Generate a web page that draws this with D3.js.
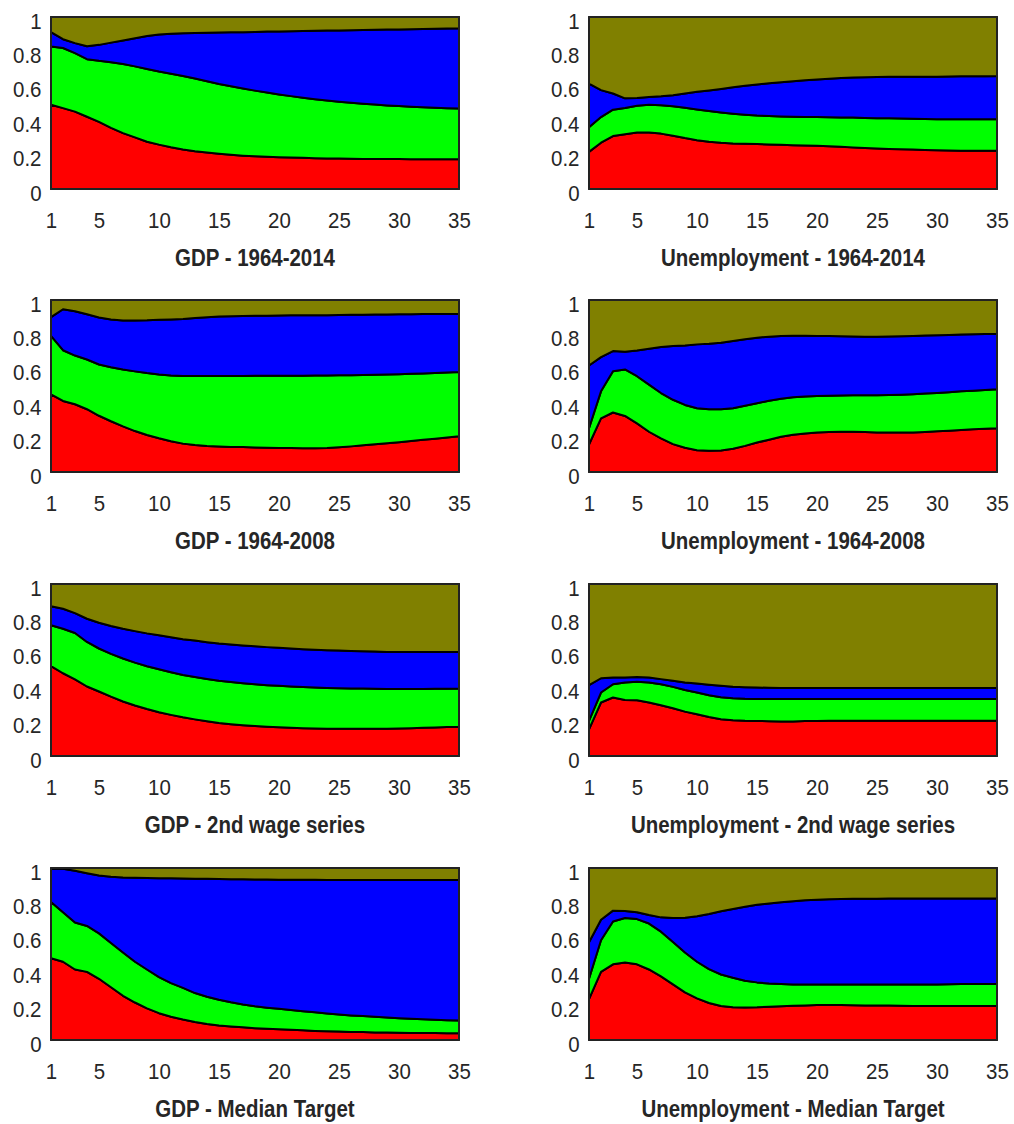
<!DOCTYPE html>
<html>
<head>
<meta charset="utf-8">
<script src="https://cdn.jsdelivr.net/npm/d3@7"></script>
<style>
  html, body { margin: 0; padding: 0; background: #ffffff; }
  svg { display: block; }
  text { font-family: "Liberation Sans", Arial, sans-serif; fill: #262626; }
</style>
</head>
<body>
<svg id="chart" width="1014" height="1124"></svg>
<script>
// Forecast horizons (quarters) shared by every panel
const horizons = [1,2,3,4,5,6,7,8,9,10,11,12,13,14,15,16,17,18,19,20,21,22,23,24,25,26,27,28,29,30,31,32,33,34,35];
const xTicks = [1, 5, 10, 15, 20, 25, 30, 35];
const yTicks = [0, 0.2, 0.4, 0.6, 0.8, 1];

// Cumulative shares: upper edge of the red, green and blue bands (olive fills the rest up to 1)
const gdp6414Red   = [0.49,0.47,0.45,0.42,0.39,0.355,0.325,0.30,0.275,0.258,0.243,0.23,0.22,0.212,0.205,0.199,0.194,0.19,0.187,0.185,0.183,0.181,0.179,0.178,0.177,0.176,0.175,0.175,0.174,0.174,0.173,0.173,0.173,0.173,0.173];
const gdp6414Green = [0.828,0.82,0.79,0.755,0.745,0.737,0.727,0.713,0.698,0.683,0.67,0.657,0.642,0.626,0.61,0.597,0.584,0.572,0.561,0.55,0.54,0.531,0.522,0.514,0.507,0.501,0.496,0.491,0.486,0.482,0.478,0.475,0.472,0.47,0.468];
const gdp6414Blue  = [0.912,0.871,0.848,0.83,0.838,0.851,0.864,0.877,0.889,0.898,0.903,0.906,0.907,0.909,0.91,0.911,0.912,0.913,0.915,0.916,0.917,0.918,0.92,0.921,0.922,0.923,0.924,0.926,0.927,0.928,0.929,0.93,0.932,0.933,0.934];

const une6414Red   = [0.216,0.269,0.308,0.318,0.328,0.329,0.322,0.31,0.296,0.284,0.275,0.269,0.265,0.263,0.261,0.259,0.257,0.255,0.253,0.251,0.248,0.245,0.242,0.238,0.235,0.233,0.231,0.229,0.227,0.225,0.224,0.223,0.223,0.222,0.222];
const une6414Green = [0.359,0.418,0.461,0.471,0.484,0.49,0.487,0.481,0.472,0.462,0.453,0.445,0.438,0.432,0.427,0.424,0.422,0.42,0.419,0.418,0.417,0.416,0.415,0.413,0.412,0.411,0.41,0.409,0.407,0.406,0.406,0.406,0.406,0.406,0.406];
const une6414Blue  = [0.612,0.575,0.555,0.527,0.529,0.535,0.539,0.545,0.555,0.565,0.573,0.582,0.591,0.6,0.608,0.615,0.621,0.627,0.632,0.637,0.641,0.645,0.648,0.65,0.651,0.652,0.652,0.653,0.653,0.653,0.654,0.655,0.656,0.656,0.657];

const gdp6408Red   = [0.452,0.413,0.394,0.365,0.327,0.295,0.265,0.238,0.215,0.196,0.179,0.165,0.157,0.151,0.148,0.146,0.145,0.143,0.141,0.14,0.139,0.138,0.138,0.14,0.144,0.149,0.155,0.161,0.167,0.173,0.18,0.187,0.194,0.201,0.208];
const gdp6408Green = [0.792,0.708,0.677,0.654,0.625,0.609,0.596,0.585,0.575,0.567,0.561,0.558,0.558,0.558,0.558,0.558,0.558,0.559,0.559,0.56,0.56,0.56,0.561,0.561,0.562,0.563,0.564,0.565,0.567,0.569,0.571,0.573,0.576,0.578,0.581];
const gdp6408Blue  = [0.9,0.946,0.935,0.917,0.898,0.887,0.881,0.881,0.882,0.885,0.887,0.89,0.895,0.9,0.904,0.906,0.907,0.908,0.909,0.91,0.911,0.911,0.912,0.912,0.913,0.914,0.914,0.915,0.916,0.917,0.917,0.918,0.918,0.919,0.919];

const une6408Red   = [0.16,0.312,0.346,0.326,0.283,0.234,0.195,0.162,0.141,0.127,0.123,0.125,0.135,0.152,0.171,0.188,0.205,0.216,0.224,0.229,0.232,0.234,0.234,0.232,0.23,0.229,0.229,0.23,0.233,0.237,0.24,0.244,0.248,0.251,0.254];
const une6408Green = [0.254,0.469,0.586,0.596,0.557,0.508,0.459,0.42,0.39,0.371,0.365,0.365,0.371,0.385,0.4,0.414,0.426,0.434,0.439,0.442,0.444,0.445,0.446,0.446,0.446,0.447,0.449,0.452,0.456,0.46,0.464,0.469,0.473,0.477,0.481];
const une6408Blue  = [0.619,0.668,0.703,0.699,0.707,0.717,0.727,0.732,0.736,0.742,0.746,0.752,0.762,0.772,0.781,0.787,0.791,0.792,0.792,0.791,0.79,0.789,0.788,0.787,0.787,0.788,0.789,0.791,0.793,0.795,0.797,0.799,0.801,0.803,0.804];

const gdpWageRed   = [0.523,0.481,0.446,0.404,0.375,0.345,0.317,0.294,0.273,0.254,0.239,0.225,0.213,0.202,0.192,0.185,0.179,0.174,0.17,0.167,0.164,0.162,0.16,0.159,0.158,0.158,0.158,0.158,0.159,0.16,0.162,0.164,0.166,0.168,0.169];
const gdpWageGreen = [0.76,0.74,0.715,0.663,0.625,0.594,0.567,0.543,0.522,0.504,0.487,0.471,0.459,0.448,0.438,0.43,0.423,0.417,0.412,0.408,0.404,0.401,0.398,0.396,0.394,0.393,0.392,0.391,0.39,0.39,0.39,0.39,0.391,0.391,0.392];
const gdpWageBlue  = [0.871,0.856,0.831,0.798,0.775,0.756,0.74,0.726,0.713,0.702,0.69,0.679,0.671,0.662,0.654,0.648,0.643,0.638,0.633,0.629,0.625,0.621,0.618,0.615,0.613,0.611,0.609,0.607,0.605,0.604,0.604,0.604,0.604,0.604,0.604];

const uneWageRed   = [0.155,0.311,0.34,0.326,0.324,0.311,0.295,0.278,0.258,0.243,0.227,0.214,0.208,0.205,0.204,0.202,0.2,0.201,0.203,0.204,0.205,0.205,0.205,0.205,0.205,0.205,0.205,0.205,0.205,0.205,0.205,0.205,0.205,0.205,0.205];
const uneWageGreen = [0.204,0.369,0.417,0.427,0.431,0.427,0.417,0.402,0.384,0.369,0.353,0.342,0.336,0.333,0.332,0.331,0.331,0.331,0.331,0.331,0.331,0.331,0.331,0.331,0.331,0.331,0.331,0.331,0.331,0.331,0.331,0.331,0.331,0.331,0.331];
const uneWageBlue  = [0.412,0.452,0.456,0.456,0.46,0.456,0.447,0.437,0.427,0.421,0.414,0.408,0.403,0.4,0.398,0.397,0.396,0.396,0.396,0.396,0.396,0.396,0.396,0.396,0.396,0.396,0.396,0.396,0.396,0.396,0.396,0.396,0.396,0.396,0.396];

const gdpMedRed    = [0.475,0.455,0.41,0.396,0.356,0.307,0.257,0.218,0.184,0.156,0.135,0.119,0.105,0.093,0.084,0.079,0.074,0.069,0.065,0.062,0.059,0.056,0.053,0.051,0.049,0.047,0.046,0.044,0.043,0.042,0.041,0.04,0.04,0.039,0.039];
const gdpMedGreen  = [0.802,0.743,0.683,0.663,0.62,0.564,0.509,0.455,0.41,0.366,0.331,0.303,0.273,0.251,0.234,0.219,0.206,0.196,0.188,0.181,0.174,0.167,0.161,0.154,0.148,0.143,0.139,0.135,0.131,0.127,0.124,0.121,0.118,0.115,0.113];
const gdpMedBlue   = [0.996,0.996,0.984,0.97,0.956,0.949,0.945,0.943,0.942,0.941,0.94,0.939,0.938,0.937,0.936,0.935,0.934,0.933,0.933,0.932,0.932,0.931,0.931,0.93,0.93,0.93,0.93,0.93,0.93,0.93,0.93,0.93,0.93,0.93,0.93];

const uneMedRed    = [0.238,0.396,0.44,0.451,0.44,0.41,0.37,0.323,0.277,0.242,0.215,0.198,0.19,0.189,0.19,0.193,0.196,0.199,0.201,0.203,0.203,0.203,0.202,0.201,0.2,0.2,0.199,0.198,0.198,0.197,0.197,0.197,0.197,0.197,0.197];
const uneMedGreen  = [0.356,0.58,0.689,0.709,0.703,0.677,0.63,0.57,0.509,0.455,0.412,0.381,0.362,0.345,0.335,0.328,0.325,0.323,0.322,0.322,0.322,0.322,0.322,0.322,0.322,0.322,0.322,0.322,0.322,0.323,0.324,0.325,0.326,0.326,0.327];
const uneMedBlue   = [0.568,0.699,0.752,0.75,0.743,0.727,0.713,0.709,0.711,0.719,0.733,0.749,0.762,0.775,0.786,0.794,0.801,0.807,0.812,0.815,0.818,0.82,0.821,0.821,0.821,0.822,0.822,0.822,0.822,0.822,0.822,0.822,0.822,0.822,0.823];

const panelTitles = [
  "GDP - 1964-2014", "Unemployment - 1964-2014",
  "GDP - 1964-2008", "Unemployment - 1964-2008",
  "GDP - 2nd wage series", "Unemployment - 2nd wage series",
  "GDP - Median Target", "Unemployment - Median Target"
];
const panelEdges = [
  [gdp6414Red, gdp6414Green, gdp6414Blue], [une6414Red, une6414Green, une6414Blue],
  [gdp6408Red, gdp6408Green, gdp6408Blue], [une6408Red, une6408Green, une6408Blue],
  [gdpWageRed, gdpWageGreen, gdpWageBlue], [uneWageRed, uneWageGreen, uneWageBlue],
  [gdpMedRed, gdpMedGreen, gdpMedBlue], [uneMedRed, uneMedGreen, uneMedBlue]
];
const bandColors = ["#ff0000", "#00ff00", "#0000ff", "#808000"];

// Grid geometry
const colLeft = [51, 589];
const plotW = 408;
const rowTop = [17, 300, 584, 868];
const plotH = 172;

const svg = d3.select("#chart");

panelEdges.forEach((edges, p) => {
  const left = colLeft[p % 2];
  const top = rowTop[Math.floor(p / 2)];
  const g = svg.append("g").attr("transform", `translate(${left},${top})`);

  const x = d3.scaleLinear().domain([1, 35]).range([0, plotW]);
  const y = d3.scaleLinear().domain([0, 1]).range([plotH, 0]);

  // band i lies between edge i-1 (or 0) and edge i (or 1)
  const lowers = [horizons.map(() => 0), edges[0], edges[1], edges[2]];
  const uppers = [edges[0], edges[1], edges[2], horizons.map(() => 1)];

  bandColors.forEach((color, b) => {
    const area = d3.area()
      .x((d, i) => x(horizons[i]))
      .y0((d, i) => y(lowers[b][i]))
      .y1((d, i) => y(uppers[b][i]));
    g.append("path")
      .attr("d", area(horizons))
      .attr("fill", color)
      .attr("stroke", "#000")
      .attr("stroke-width", 2)
      .attr("stroke-linejoin", "round");
  });

  // plot box
  g.append("rect")
    .attr("x", 0).attr("y", 0)
    .attr("width", plotW).attr("height", plotH)
    .attr("fill", "none")
    .attr("stroke", "#262626")
    .attr("stroke-width", 1.8);

  // x axis labels
  const xAxis = g.append("g")
    .attr("transform", `translate(0,${plotH})`)
    .call(d3.axisBottom(x).tickValues(xTicks).tickSize(0).tickFormat(d3.format("d")));
  xAxis.select(".domain").remove();
  xAxis.selectAll("text")
    .attr("y", 39.5).attr("dy", null)
    .attr("font-size", 22)
    .attr("font-family", "Liberation Sans, Arial, sans-serif")
    .attr("fill", "#262626")
    .attr("transform", "scale(0.93,1)");

  // y axis labels
  const yAxis = g.append("g")
    .call(d3.axisLeft(y).tickValues(yTicks).tickSize(0).tickFormat(d3.format("~g")));
  yAxis.select(".domain").remove();
  yAxis.selectAll("text")
    .attr("x", -9.5 / 0.93).attr("y", 11).attr("dy", null)
    .attr("font-size", 22)
    .attr("font-family", "Liberation Sans, Arial, sans-serif")
    .attr("fill", "#262626")
    .attr("transform", "scale(0.93,1)");

  // panel title
  g.append("text")
    .attr("transform", `translate(${plotW / 2},${plotH + 77}) scale(0.89,1)`)
    .attr("text-anchor", "middle")
    .attr("font-size", 23)
    .attr("font-weight", "bold")
    .text(panelTitles[p]);
});
</script>
</body>
</html>
